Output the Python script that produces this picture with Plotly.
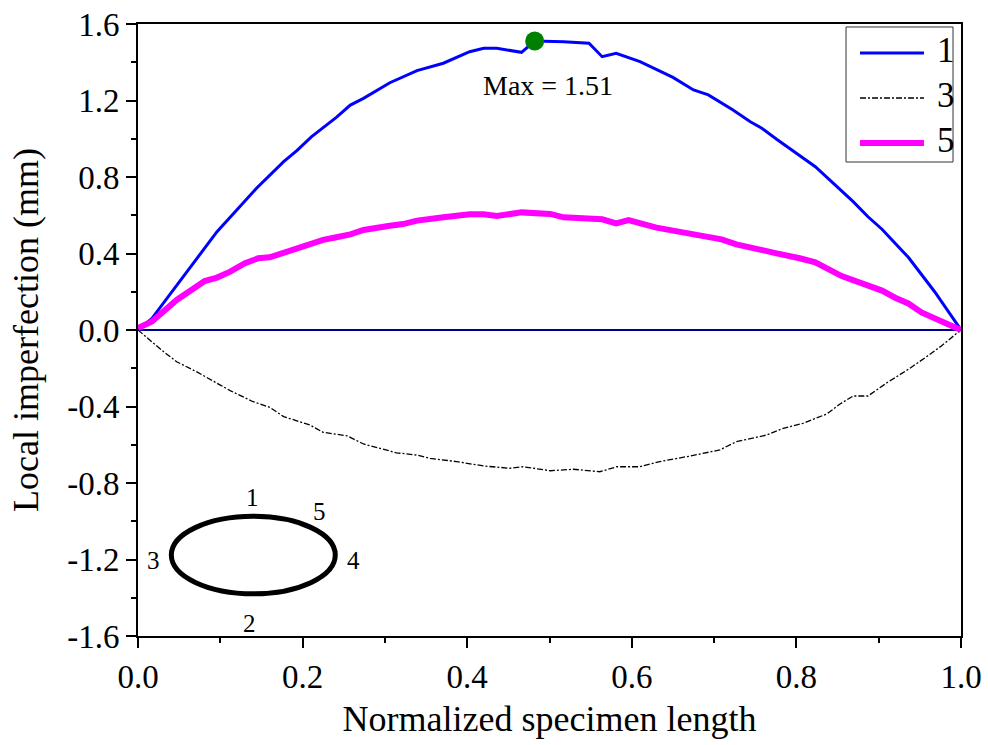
import plotly.graph_objects as go

# Curve 1
x1 = [0, 0.017, 0.096, 0.144, 0.177, 0.193, 0.211, 0.241, 0.258, 0.274, 0.306, 0.339, 0.371,
      0.403, 0.420, 0.436, 0.466, 0.482, 0.517, 0.548, 0.564, 0.581, 0.610, 0.650, 0.675,
      0.693, 0.723, 0.744, 0.758, 0.776, 0.823, 0.869, 0.887, 0.904, 0.936, 0.968, 1.0]
y1 = [0, 0.061, 0.514, 0.741, 0.880, 0.938, 1.011, 1.112, 1.176, 1.211, 1.293, 1.356, 1.395,
      1.455, 1.473, 1.473, 1.452, 1.511, 1.507, 1.499, 1.429, 1.447, 1.403, 1.321, 1.255,
      1.229, 1.150, 1.089, 1.055, 0.997, 0.854, 0.671, 0.592, 0.527, 0.380, 0.200, 0.0]

# Curve 3
x3 = [0, 0.031, 0.047, 0.071, 0.100, 0.112, 0.140, 0.160, 0.177, 0.209, 0.225, 0.254, 0.274,
      0.314, 0.339, 0.355, 0.387, 0.420, 0.452, 0.468, 0.501, 0.529, 0.561, 0.582, 0.610,
      0.634, 0.671, 0.707, 0.727, 0.764, 0.784, 0.808, 0.837, 0.853, 0.869, 0.887, 0.910,
      0.938, 0.958, 0.975, 0.995, 1.0]
y3 = [0, -0.113, -0.166, -0.218, -0.288, -0.317, -0.375, -0.404, -0.453, -0.497, -0.535,
      -0.553, -0.596, -0.642, -0.654, -0.671, -0.688, -0.711, -0.723, -0.715, -0.736, -0.728,
      -0.741, -0.715, -0.715, -0.688, -0.659, -0.627, -0.584, -0.549, -0.514, -0.488, -0.439,
      -0.387, -0.345, -0.345, -0.276, -0.200, -0.140, -0.087, -0.017, 0.0]

# Curve 5
x5 = [0, 0.017, 0.047, 0.065, 0.081, 0.096, 0.112, 0.130, 0.146, 0.160, 0.177, 0.193, 0.209,
      0.225, 0.241, 0.258, 0.274, 0.290, 0.306, 0.322, 0.339, 0.371, 0.403, 0.420, 0.436,
      0.466, 0.488, 0.501, 0.517, 0.548, 0.564, 0.581, 0.596, 0.630, 0.650, 0.675, 0.695,
      0.709, 0.727, 0.752, 0.776, 0.804, 0.823, 0.855, 0.883, 0.904, 0.920, 0.936, 0.952,
      0.975, 1.0]
y5 = [0.01, 0.044, 0.157, 0.209, 0.256, 0.274, 0.305, 0.349, 0.375, 0.380, 0.404, 0.422,
      0.448, 0.471, 0.485, 0.500, 0.523, 0.537, 0.545, 0.554, 0.572, 0.589, 0.605, 0.605,
      0.596, 0.615, 0.610, 0.607, 0.589, 0.584, 0.579, 0.558, 0.575, 0.535, 0.519, 0.500,
      0.479, 0.474, 0.448, 0.427, 0.401, 0.375, 0.354, 0.282, 0.241, 0.206, 0.169, 0.139,
      0.092, 0.049, 0.0]

series_names = ["1", "3", "5"]

max_x = [0.482]
max_y = [1.511]
max_label = "Max = 1.51"

# cross-section sketch (ellipse) and position labels
ellipse_x = [0.0405, 0.2397]
ellipse_y = [-1.379, -0.974]
pos_labels = ["1", "5", "3", "4", "2"]
pos_x = [0.139, 0.221, 0.019, 0.262, 0.135]
pos_y = [-0.878, -0.950, -1.203, -1.203, -1.534]

xticks = [0.0, 0.2, 0.4, 0.6, 0.8, 1.0]
yticks = [-1.6, -1.2, -0.8, -0.4, 0.0, 0.4, 0.8, 1.2, 1.6]

FONT = "Liberation Serif"
styles = [dict(color="#0000FF", width=3),
          dict(color="#000000", width=1.3, dash="6px,2px,2px,2px"),
          dict(color="#FF00FF", width=6)]

fig = go.Figure()
for xs, ys, nm, st in zip([x1, x3, x5], [y1, y3, y5], series_names, styles):
    fig.add_trace(go.Scatter(x=xs, y=ys, mode="lines", name=nm, line=st, showlegend=False))
fig.add_trace(go.Scatter(x=max_x, y=max_y, mode="markers", showlegend=False,
                         marker=dict(color="#008000", size=19)))

fig.add_shape(type="circle", xref="x", yref="y",
              x0=ellipse_x[0], x1=ellipse_x[1], y0=ellipse_y[0], y1=ellipse_y[1],
              line=dict(color="black", width=5))

for t, px, py in zip(pos_labels, pos_x, pos_y):
    fig.add_annotation(x=px, y=py, text=t, showarrow=False, xref="x", yref="y",
                       font=dict(family=FONT, size=25, color="black"))

fig.add_annotation(x=0.498, y=1.281, text=max_label, showarrow=False, xref="x", yref="y",
                   font=dict(family=FONT, size=28, color="black"))

# legend box (paper coordinates)
fig.add_shape(type="rect", xref="paper", yref="paper", x0=0.8603, x1=0.9903,
              y0=0.7745, y1=0.9951, line=dict(color="#333333", width=1),
              fillcolor="white", layer="above")
row_y = [0.9526, 0.8791, 0.8056]
for nm, st, ry in zip(series_names, styles, row_y):
    fig.add_shape(type="line", xref="paper", yref="paper", x0=0.8773, x1=0.9550,
                  y0=ry, y1=ry, line=st, layer="above")
    fig.add_annotation(x=0.9684, y=ry + 0.004, text=nm, showarrow=False, xref="paper",
                       yref="paper", xanchor="left", yanchor="middle",
                       font=dict(family=FONT, size=35, color="black"))

axis_common = dict(
    showline=True, linecolor="black", linewidth=2, mirror=True,
    ticks="outside", ticklen=10, tickwidth=2, tickcolor="black",
    showgrid=False, automargin=False,
    tickfont=dict(family=FONT, size=33, color="black"),
    minor=dict(ticks="outside", ticklen=5, tickwidth=2, tickcolor="black", showgrid=False),
)

fig.update_xaxes(range=[0, 1], tickvals=xticks, ticktext=[f"{v:.1f}" for v in xticks],
                 minor_dtick=0.1, zeroline=False,
                 title=dict(text="Normalized specimen length", standoff=12,
                            font=dict(family=FONT, size=36, color="black")),
                 **axis_common)
fig.update_yaxes(range=[-1.6, 1.6], tickvals=yticks, ticktext=[f"{v:.1f}" for v in yticks],
                 minor_dtick=0.2, zeroline=True, zerolinecolor="#00008B", zerolinewidth=1.5,
                 title=dict(text="Local imperfection (mm)", standoff=18,
                            font=dict(family=FONT, size=36, color="black")),
                 **axis_common)

fig.update_layout(
    width=988, height=745,
    margin=dict(l=138, r=27, t=24, b=109, autoexpand=False),
    plot_bgcolor="white", paper_bgcolor="white",
    font=dict(family=FONT, color="black"),
    showlegend=False,
)

fig.write_html("out.html")
